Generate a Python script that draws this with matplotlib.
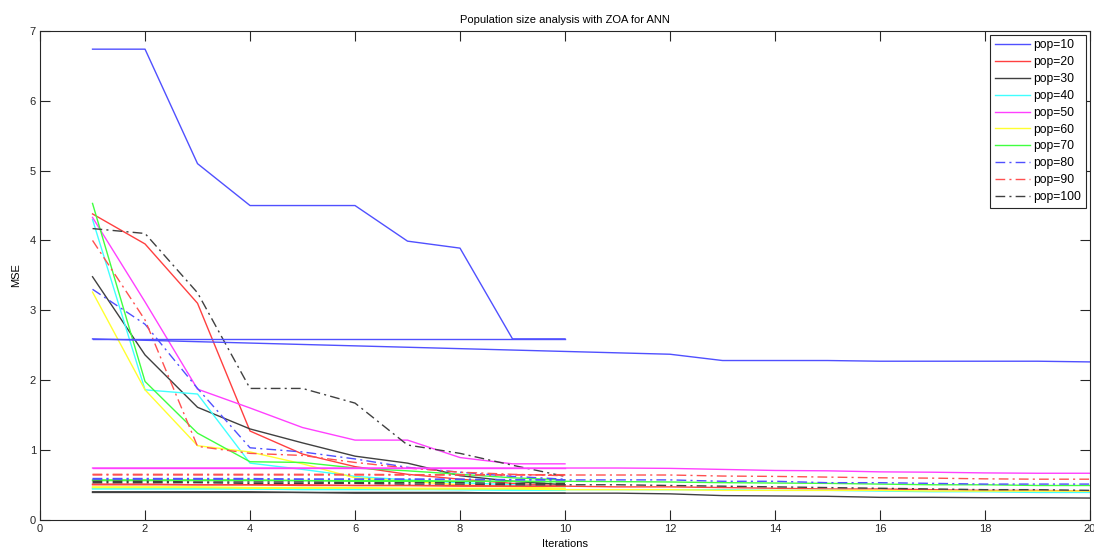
import matplotlib
matplotlib.use("Agg")
import matplotlib.pyplot as plt

plt.rcParams['font.family'] = ['Liberation Sans', 'DejaVu Sans']

# Iteration axes
iters10 = [1, 2, 3, 4, 5, 6, 7, 8, 9, 10]
iters20 = list(range(1, 21))

pops = [10, 20, 30, 40, 50, 60, 70, 80, 90, 100]

# Convergence curves, 10 iterations
conv_p10 = [6.74, 6.74, 5.10, 4.50, 4.50, 4.50, 3.99, 3.89, 2.59, 2.59]
conv_p20 = [4.38, 3.95, 3.10, 1.27, 0.94, 0.76, 0.65, 0.58, 0.52, 0.48]
conv_p30 = [3.48, 2.36, 1.61, 1.30, 1.10, 0.91, 0.81, 0.63, 0.55, 0.50]
conv_p40 = [4.30, 1.86, 1.80, 0.81, 0.72, 0.62, 0.57, 0.53, 0.50, 0.47]
conv_p50 = [4.33, 3.12, 1.87, 1.60, 1.32, 1.14, 1.14, 0.89, 0.80, 0.80]
conv_p60 = [3.26, 1.86, 1.06, 0.97, 0.80, 0.60, 0.55, 0.50, 0.47, 0.45]
conv_p70 = [4.53, 1.98, 1.24, 0.83, 0.82, 0.74, 0.70, 0.65, 0.60, 0.57]
conv_p80 = [3.30, 2.80, 1.88, 1.03, 0.97, 0.87, 0.75, 0.68, 0.62, 0.58]
conv_p90 = [4.00, 2.86, 1.05, 0.95, 0.92, 0.82, 0.74, 0.68, 0.65, 0.63]
conv_p100 = [4.17, 4.10, 3.25, 1.88, 1.88, 1.67, 1.07, 0.95, 0.78, 0.62]

# Best-so-far runs, 10 iterations
flat_p10 = [2.59, 2.59, 2.59, 2.59, 2.59, 2.59, 2.59, 2.59, 2.59, 2.59]
flat_p20 = [0.50, 0.50, 0.50, 0.50, 0.49, 0.49, 0.49, 0.48, 0.48, 0.48]
flat_p30 = [0.40, 0.40, 0.40, 0.40, 0.39, 0.39, 0.39, 0.39, 0.38, 0.38]
flat_p40 = [0.44, 0.44, 0.44, 0.44, 0.43, 0.43, 0.43, 0.43, 0.42, 0.42]
flat_p50 = [0.74, 0.74, 0.74, 0.74, 0.74, 0.74, 0.74, 0.74, 0.74, 0.74]
flat_p60 = [0.47, 0.47, 0.47, 0.46, 0.46, 0.46, 0.45, 0.45, 0.45, 0.44]
flat_p70 = [0.56, 0.56, 0.56, 0.56, 0.56, 0.55, 0.55, 0.55, 0.55, 0.54]
flat_p80 = [0.59, 0.59, 0.59, 0.59, 0.58, 0.58, 0.58, 0.58, 0.57, 0.57]
flat_p90 = [0.65, 0.65, 0.65, 0.65, 0.65, 0.65, 0.645, 0.645, 0.645, 0.645]
flat_p100 = [0.55, 0.55, 0.54, 0.54, 0.54, 0.53, 0.53, 0.53, 0.52, 0.52]

# Best-so-far runs, 20 iterations
long_p10 = [2.59, 2.57, 2.55, 2.53, 2.51, 2.49, 2.47, 2.45, 2.43, 2.41,
            2.39, 2.37, 2.28, 2.28, 2.28, 2.27, 2.27, 2.27, 2.27, 2.26]
long_p20 = [0.51, 0.51, 0.50, 0.50, 0.50, 0.49, 0.49, 0.49, 0.48, 0.48,
            0.47, 0.47, 0.46, 0.45, 0.44, 0.44, 0.43, 0.42, 0.42, 0.41]
long_p30 = [0.39, 0.39, 0.39, 0.39, 0.39, 0.38, 0.38, 0.38, 0.38, 0.38,
            0.38, 0.37, 0.345, 0.34, 0.335, 0.32, 0.32, 0.315, 0.315, 0.31]
long_p40 = [0.45, 0.45, 0.45, 0.44, 0.44, 0.44, 0.44, 0.43, 0.43, 0.43,
            0.43, 0.43, 0.43, 0.42, 0.42, 0.41, 0.40, 0.40, 0.39, 0.39]
long_p50 = [0.74, 0.74, 0.74, 0.74, 0.74, 0.74, 0.74, 0.74, 0.74, 0.74,
            0.74, 0.735, 0.72, 0.705, 0.70, 0.685, 0.68, 0.67, 0.665, 0.665]
long_p60 = [0.46, 0.46, 0.46, 0.45, 0.45, 0.45, 0.44, 0.44, 0.44, 0.43,
            0.43, 0.43, 0.42, 0.42, 0.42, 0.42, 0.41, 0.41, 0.41, 0.41]
long_p70 = [0.57, 0.57, 0.57, 0.57, 0.56, 0.56, 0.56, 0.55, 0.55, 0.55,
            0.545, 0.54, 0.53, 0.525, 0.52, 0.51, 0.50, 0.50, 0.49, 0.49]
long_p80 = [0.58, 0.58, 0.58, 0.58, 0.58, 0.58, 0.58, 0.575, 0.575, 0.57,
            0.57, 0.57, 0.55, 0.55, 0.53, 0.53, 0.52, 0.51, 0.51, 0.51]
long_p90 = [0.64, 0.64, 0.64, 0.64, 0.64, 0.64, 0.64, 0.64, 0.64, 0.64,
            0.64, 0.64, 0.625, 0.62, 0.61, 0.60, 0.595, 0.585, 0.58, 0.58]
long_p100 = [0.53, 0.53, 0.53, 0.52, 0.52, 0.52, 0.51, 0.51, 0.50, 0.50,
             0.50, 0.49, 0.48, 0.47, 0.46, 0.45, 0.44, 0.43, 0.43, 0.42]

conv = [conv_p10, conv_p20, conv_p30, conv_p40, conv_p50,
        conv_p60, conv_p70, conv_p80, conv_p90, conv_p100]
flat = [flat_p10, flat_p20, flat_p30, flat_p40, flat_p50,
        flat_p60, flat_p70, flat_p80, flat_p90, flat_p100]
long_runs = [long_p10, long_p20, long_p30, long_p40, long_p50,
             long_p60, long_p70, long_p80, long_p90, long_p100]

# MATLAB style colour / line spec per population size
dashdot = (0, (7, 3, 1.5, 3))
styles = [
    ('#5050ff', '-'), ('#ff4040', '-'), ('#404040', '-'), ('#40ffff', '-'),
    ('#ff40ff', '-'), ('#ffff30', '-'), ('#40ff40', '-'),
    ('#5050ff', dashdot), ('#ff5050', dashdot), ('#404040', dashdot),
]

fig = plt.figure(figsize=(10.94, 5.49), dpi=100)
ax = fig.add_axes([0.0366, 0.0534, 0.9597, 0.8901])

for p, c, (col, ls) in zip(pops, conv, styles):
    ax.plot(iters10, c, color=col, linestyle=ls, linewidth=1.0, label=f"pop={p}")
for f, l, (col, ls) in zip(flat, long_runs, styles):
    ax.plot(iters10, f, color=col, linestyle=ls, linewidth=1.0)
    ax.plot(iters20, l, color=col, linestyle=ls, linewidth=1.0)

ax.set_xlim(0, 20)
ax.set_ylim(0, 7)
ax.set_xticks(range(0, 21, 2))
ax.set_yticks(range(0, 8))
ax.tick_params(direction='in', length=7, width=0.8, top=True, right=True,
               labelsize=8, colors='#262626', pad=3)
for s in ax.spines.values():
    s.set_color('#262626')
    s.set_linewidth(0.8)

ax.set_title("Population size analysis with ZOA for ANN", fontsize=8, pad=6)
ax.set_xlabel("Iterations", fontsize=8, labelpad=4)
ax.set_ylabel("MSE", fontsize=8, labelpad=6)

leg = ax.legend(loc='upper right', fontsize=8.7, handlelength=2.9, handletextpad=0.3,
                labelspacing=0.40, borderpad=0.4, fancybox=False, framealpha=1,
                borderaxespad=0.3)
leg.get_frame().set_edgecolor('#262626')
leg.get_frame().set_linewidth(0.8)

fig.savefig("out.png", dpi=100)
